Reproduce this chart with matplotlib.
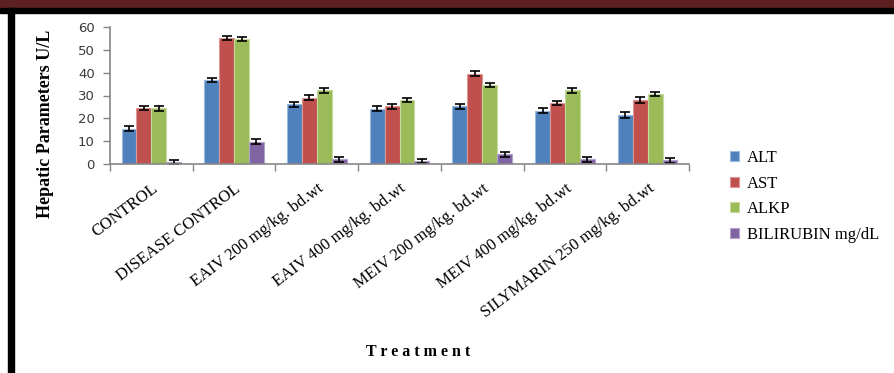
import numpy as np
import matplotlib
matplotlib.use("Agg")
import matplotlib.pyplot as plt
from matplotlib.patches import Rectangle

# hepatic parameters per treatment group
groups = ['CONTROL', 'DISEASE CONTROL', 'EAIV 200 mg/kg. bd.wt', 'EAIV 400 mg/kg. bd.wt',
          'MEIV 200 mg/kg. bd.wt', 'MEIV 400 mg/kg. bd.wt', 'SILYMARIN 250 mg/kg. bd.wt']
series = ['ALT', 'AST', 'ALKP', 'BILIRUBIN mg/dL']

alt = [15.5, 36.7, 26.2, 24.3, 25.3, 23.3, 21.4]
ast = [24.5, 55.3, 29.1, 25.3, 39.6, 26.8, 28.0]
alkp = [24.4, 54.9, 32.3, 28.0, 34.6, 32.3, 30.6]
bili = [0.8, 9.7, 2.0, 1.2, 4.2, 2.0, 1.6]

alt_err = [1.0, 1.0, 1.1, 1.1, 1.0, 1.1, 1.2]
ast_err = [1.0, 0.9, 1.0, 1.0, 1.0, 1.0, 1.2]
alkp_err = [1.0, 0.9, 1.0, 1.0, 1.0, 1.0, 1.0]
bili_err = [0.8, 1.1, 1.0, 0.9, 1.1, 1.0, 1.0]

colors = ['#4F81BD', '#C0504D', '#9BBB59', '#8064A2']
edges = ['#9bb8dd', '#dc9896', '#c4da9c', '#b3a2c9']

fig = plt.figure(figsize=(8.94, 3.73), dpi=100)
ax = fig.add_axes([110/894, 1-164/373, 579/894, 137/373])

x = np.arange(len(groups))
w = 0.18
vals = [alt, ast, alkp, bili]
errs = [alt_err, ast_err, alkp_err, bili_err]
for i in range(4):
    ax.bar(x + (i - 1.5)*w, vals[i], w, color=colors[i], edgecolor=edges[i], linewidth=0.8,
           yerr=errs[i], capsize=3.5, error_kw=dict(ecolor='black', elinewidth=1.2, capthick=1.2),
           label=series[i])

ax.set_xlim(-0.5, len(groups)-0.5)
ax.set_ylim(0, 60)
ax.set_yticks(range(0, 61, 10))
ax.tick_params(axis='y', labelsize=9.5, labelcolor='#3a3a3a', color='#868686', length=5, width=1, pad=6)
ax.set_xticks(np.arange(len(groups)+1) - 0.5)
ax.set_xticks(x, minor=True)
ax.tick_params(axis='x', which='major', labelbottom=False, color='#868686', length=5, width=1)
ax.tick_params(axis='x', which='minor', length=0, pad=12)
ax.set_xticklabels(groups, minor=True, rotation=37, ha='right', rotation_mode='anchor',
                   fontfamily='Liberation Serif', fontsize=12)
for s in ['top', 'right']:
    ax.spines[s].set_visible(False)
for s in ['left', 'bottom']:
    ax.spines[s].set_color('#868686')
    ax.spines[s].set_linewidth(1.2)

fig.text(46/894, 1-124/373, 'Hepatic Parameters U/L', rotation=90, ha='center', va='center',
         fontfamily='Liberation Serif', fontsize=13, fontweight='bold')
fig.text(418/894, 1-352/373, 'T r e a t m e n t', ha='center', va='center',
         fontfamily='Liberation Serif', fontsize=11.5, fontweight='bold')

leg = fig.legend(loc='upper left', bbox_to_anchor=(715/894, 1-135/373), frameon=False,
                 handlelength=0.55, handleheight=0.55, handletextpad=0.45, labelspacing=0.58,
                 prop={'family': 'Liberation Serif', 'size': 12})

# page decorations: maroon band, black rule and left bar
fig.patches.append(Rectangle((0, 1-6.5/373), 1, 6.5/373, transform=fig.transFigure,
                             color='#5e2121', zorder=0))
fig.patches.append(Rectangle((0, 1-12.5/373), 1, 4.5/373, transform=fig.transFigure,
                             color='black', zorder=0))
fig.patches.append(Rectangle((8/894, 0), 6/894, 1-8/373, transform=fig.transFigure,
                             color='black', zorder=0))

fig.savefig('out.png', dpi=100)
